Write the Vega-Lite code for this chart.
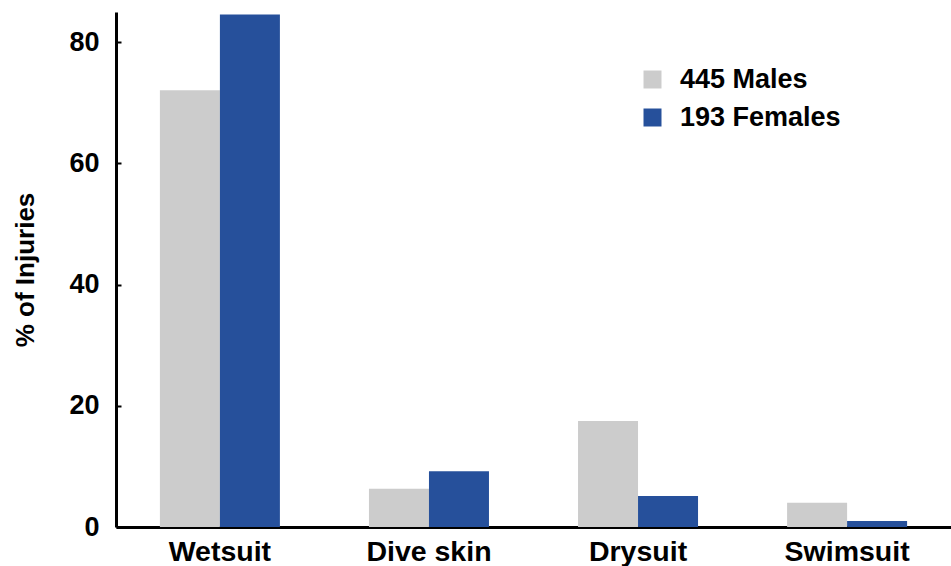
{
  "$schema": "https://vega.github.io/schema/vega-lite/v6.json",
  "width": 835,
  "height": 515,
  "autosize": "none",
  "padding": {"left": 116, "top": 12, "right": 0, "bottom": 39},
  "background": "white",
  "data": {
    "values": [
      {"suit": "Wetsuit", "group": "445 Males", "pct": 72.1},
      {"suit": "Wetsuit", "group": "193 Females", "pct": 84.6},
      {"suit": "Dive skin", "group": "445 Males", "pct": 6.3},
      {"suit": "Dive skin", "group": "193 Females", "pct": 9.2},
      {"suit": "Drysuit", "group": "445 Males", "pct": 17.5},
      {"suit": "Drysuit", "group": "193 Females", "pct": 5.1},
      {"suit": "Swimsuit", "group": "445 Males", "pct": 4.0},
      {"suit": "Swimsuit", "group": "193 Females", "pct": 1.0}
    ]
  },
  "config": {
    "view": {"stroke": null},
    "font": "Liberation Sans"
  },
  "mark": {"type": "bar"},
  "encoding": {
    "x": {
      "field": "suit",
      "type": "nominal",
      "sort": ["Wetsuit", "Dive skin", "Drysuit", "Swimsuit"],
      "scale": {"paddingInner": 0.426, "paddingOuter": 0.21},
      "axis": {
        "title": null,
        "labelAngle": 0,
        "labelFont": "Liberation Sans",
        "labelFontSize": 28.5,
        "labelFontWeight": "bold",
        "labelColor": "black",
        "labelPadding": 10,
        "ticks": false,
        "domainColor": "black",
        "domainWidth": 3
      }
    },
    "xOffset": {
      "field": "group",
      "type": "nominal",
      "sort": ["445 Males", "193 Females"],
      "scale": {"paddingInner": 0, "paddingOuter": 0}
    },
    "y": {
      "field": "pct",
      "type": "quantitative",
      "scale": {"domain": [0, 85], "nice": false},
      "axis": {
        "title": "% of Injuries",
        "titleFont": "Liberation Sans",
        "titleFontSize": 26,
        "titleFontWeight": "bold",
        "titleColor": "black",
        "titlePadding": 30,
        "values": [0, 20, 40, 60, 80],
        "grid": false,
        "labelFont": "Liberation Sans",
        "labelFontSize": 27,
        "labelFontWeight": "bold",
        "labelColor": "black",
        "labelPadding": 22,
        "tickSize": -5,
        "tickWidth": 2,
        "tickColor": "black",
        "domainColor": "black",
        "domainWidth": 3
      }
    },
    "color": {
      "field": "group",
      "type": "nominal",
      "sort": ["445 Males", "193 Females"],
      "scale": {"domain": ["445 Males", "193 Females"], "range": ["#cccccc", "#26509b"]},
      "legend": {
        "title": null,
        "orient": "none",
        "legendX": 523,
        "legendY": 54,
        "symbolType": "square",
        "symbolSize": 324,
        "symbolStrokeWidth": 0,
        "labelFont": "Liberation Sans",
        "labelFontSize": 27,
        "labelFontWeight": "bold",
        "labelColor": "black",
        "labelOffset": 14,
        "rowPadding": 10,
        "labelLimit": 400
      }
    }
  }
}
